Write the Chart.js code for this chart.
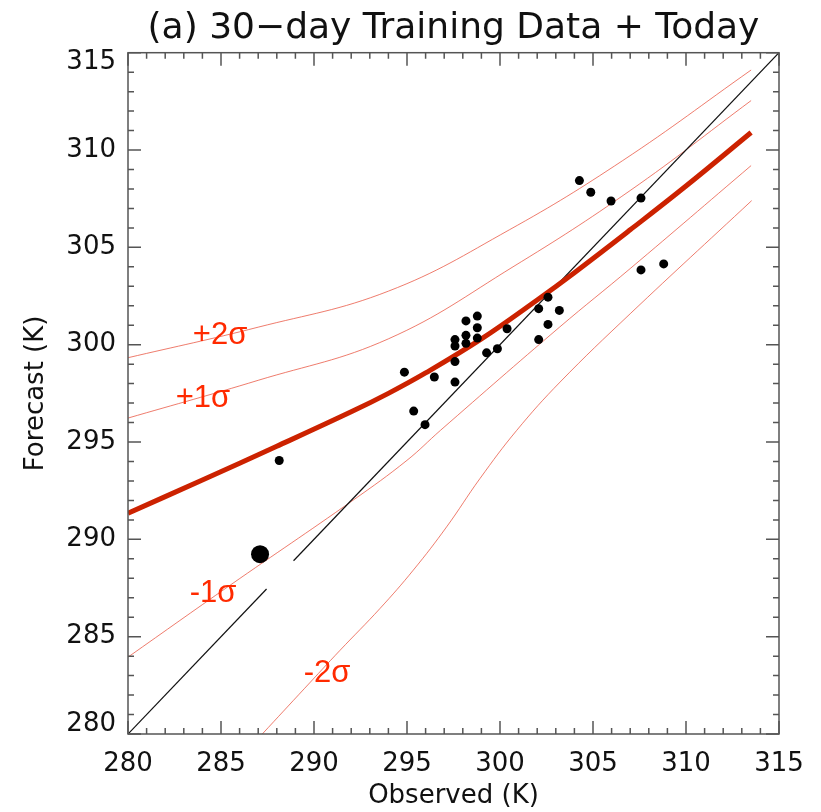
<!DOCTYPE html>
<html lang="en">
<head>
<meta charset="UTF-8">
<title>30-day Training Data + Today</title>
<script src="https://cdn.jsdelivr.net/npm/chart.js"></script>
<style>
  html, body { margin: 0; padding: 0; background: #fff; }
  #wrap { width: 821px; height: 812px; }
</style>
</head>
<body>
<div id="wrap"><canvas id="scatterChart" width="821" height="812"></canvas></div>
<script>
  // training days: observed vs forecast (K)
  const obsX = [288.13, 294.86, 295.36, 295.97, 296.47, 297.58, 297.58, 297.58, 297.58, 298.17,
                298.17, 298.17, 298.78, 298.78, 298.78, 299.28, 299.86, 300.38, 302.08, 302.08,
                302.58, 302.58, 303.19, 304.27, 304.88, 305.97, 307.58, 307.58, 308.80];
  const fcstY = [294.05, 298.59, 296.59, 295.89, 298.34, 298.08, 299.13, 299.93, 300.26, 301.22,
                 300.48, 300.07, 301.47, 300.87, 300.34, 299.58, 299.79, 300.82, 300.26, 301.85,
                 302.44, 301.04, 301.76, 308.43, 307.83, 307.38, 307.53, 303.84, 304.15];

  // today's forecast
  const todayX = [287.10];
  const todayY = [289.24];

  // 1:1 reference line, broken around today's point
  const diagLowX = [280, 287.45];
  const diagLowY = [280, 287.45];
  const diagHighX = [288.9, 315];
  const diagHighY = [288.9, 315];

  // regression curve
  const fitX = [280, 284, 288, 292, 294, 296, 299, 302, 304, 307, 310, 313.5];
  const fitY = [291.34, 293.05, 294.78, 296.55, 297.5, 298.55, 300.3, 302.3, 303.7, 305.9, 308.15, 310.9];

  // spread curves
  const plus2X = [280, 287, 294, 300.5, 306.6, 313.5];
  const plus2Y = [299.33, 300.90, 302.75, 305.9, 309.46, 314.11];
  const plus1X = [280, 287, 294, 300.7, 307, 313.5];
  const plus1Y = [296.23, 298.17, 300.30, 304.0, 307.92, 312.54];
  const minus1X = [280, 285.5, 292.1, 295, 296.8, 303.2, 307, 313.5];
  const minus1Y = [283.95, 287.65, 292.01, 294.06, 295.6, 300.9, 303.91, 309.2];
  const minus2X = [287.22, 289.5, 291.4, 293.55, 295.34, 297.13, 298.92, 300.9, 303.23, 307, 313.53];
  const minus2Y = [280, 282.35, 284.3, 286.45, 288.42, 290.64, 293.12, 295.6, 298.08, 301.59, 307.4];

  const sigmaText = ['+2σ', '+1σ', '-1σ', '-2σ'];
  const sigmaLabelX = [284.95, 284.03, 284.57, 290.70];
  const sigmaLabelY = [300.48, 297.24, 287.24, 283.13];

  const axisMin = 280;
  const axisMax = 315;

  const pts = (xs, ys) => xs.map((x, i) => ({ x: x, y: ys[i] }));

  const sigmaColor = 'rgba(232, 80, 60, 0.75)';
  const sigmaLine = (xs, ys) => ({
    data: pts(xs, ys),
    showLine: true,
    borderColor: sigmaColor,
    borderWidth: 1,
    pointRadius: 0,
    tension: 0.4
  });

  // box with inward ticks on all four sides + y tick labels
  const frameTicks = {
    id: 'frameTicks',
    afterDraw(chart) {
      const { ctx, chartArea: a, scales: { x, y } } = chart;
      ctx.save();
      ctx.strokeStyle = '#555';
      ctx.lineWidth = 1.5;
      ctx.strokeRect(a.left, a.top, a.right - a.left, a.bottom - a.top);
      ctx.beginPath();
      for (let v = axisMin; v <= axisMax; v++) {
        const len = v % 5 === 0 ? 13 : 6;
        const px = x.getPixelForValue(v);
        ctx.moveTo(px, a.bottom); ctx.lineTo(px, a.bottom - len);
        ctx.moveTo(px, a.top); ctx.lineTo(px, a.top + len);
        const py = y.getPixelForValue(v);
        ctx.moveTo(a.left, py); ctx.lineTo(a.left + len, py);
        ctx.moveTo(a.right, py); ctx.lineTo(a.right - len, py);
      }
      ctx.stroke();

      ctx.fillStyle = '#111';
      ctx.font = '26px "DejaVu Sans"';
      ctx.textAlign = 'right';
      ctx.textBaseline = 'middle';
      const half = 10;
      y.ticks.forEach(t => {
        let py = y.getPixelForValue(t.value);
        py = Math.min(Math.max(py, a.top + half), a.bottom - half);
        ctx.fillText(String(t.value), a.left - 12, py);
      });
      ctx.restore();
    }
  };

  const sigmaLabels = {
    id: 'sigmaLabels',
    afterDatasetsDraw(chart) {
      const { ctx, scales: { x, y } } = chart;
      ctx.save();
      ctx.fillStyle = '#ff2a00';
      ctx.font = '31px "Liberation Sans"';
      ctx.textAlign = 'center';
      ctx.textBaseline = 'middle';
      sigmaText.forEach((s, i) => {
        ctx.fillText(s, x.getPixelForValue(sigmaLabelX[i]), y.getPixelForValue(sigmaLabelY[i]));
      });
      ctx.restore();
    }
  };

  const ctx = document.getElementById('scatterChart').getContext('2d');
  new Chart(ctx, {
    type: 'scatter',
    data: {
      datasets: [
        { data: pts(todayX, todayY), pointRadius: 9, backgroundColor: '#000', borderWidth: 0 },
        { data: pts(obsX, fcstY), pointRadius: 4.5, backgroundColor: '#000', borderWidth: 0 },
        { data: pts(fitX, fitY), showLine: true, borderColor: '#cc2200', borderWidth: 5,
          pointRadius: 0, tension: 0.4 },
        { data: pts(diagLowX, diagLowY), showLine: true, borderColor: '#111', borderWidth: 1.2, pointRadius: 0 },
        { data: pts(diagHighX, diagHighY), showLine: true, borderColor: '#111', borderWidth: 1.2, pointRadius: 0 },
        sigmaLine(plus2X, plus2Y),
        sigmaLine(plus1X, plus1Y),
        sigmaLine(minus1X, minus1Y),
        sigmaLine(minus2X, minus2Y)
      ]
    },
    options: {
      responsive: false,
      devicePixelRatio: 1,
      animation: false,
      layout: { padding: { left: 0, right: 42, top: 0, bottom: 0 } },
      plugins: {
        legend: { display: false },
        tooltip: { enabled: false },
        title: {
          display: true,
          fullSize: false,
          text: '(a) 30\u2212day Training Data + Today',
          color: '#111',
          font: { family: 'DejaVu Sans', size: 36, weight: 'normal' },
          padding: { top: 7, bottom: 2.5 }
        }
      },
      scales: {
        x: {
          type: 'linear',
          min: axisMin,
          max: axisMax,
          grid: { display: false, drawTicks: false },
          border: { display: false },
          ticks: {
            stepSize: 5,
            padding: 15,
            color: '#111',
            font: { family: 'DejaVu Sans', size: 26 },
            maxRotation: 0
          },
          title: {
            display: true,
            text: 'Observed (K)',
            color: '#111',
            font: { family: 'DejaVu Sans', size: 26 },
            padding: { top: 0, bottom: 0 }
          },
          afterFit: s => { s.height = 78; }
        },
        y: {
          type: 'linear',
          min: axisMin,
          max: axisMax,
          grid: { display: false, drawTicks: false },
          border: { display: false },
          ticks: { stepSize: 5, display: false },
          title: {
            display: true,
            text: 'Forecast (K)',
            color: '#111',
            font: { family: 'DejaVu Sans', size: 26 },
            padding: { top: 21, bottom: 0 }
          },
          afterFit: s => { s.width = 128; }
        }
      }
    },
    plugins: [frameTicks, sigmaLabels]
  });
</script>
</body>
</html>
